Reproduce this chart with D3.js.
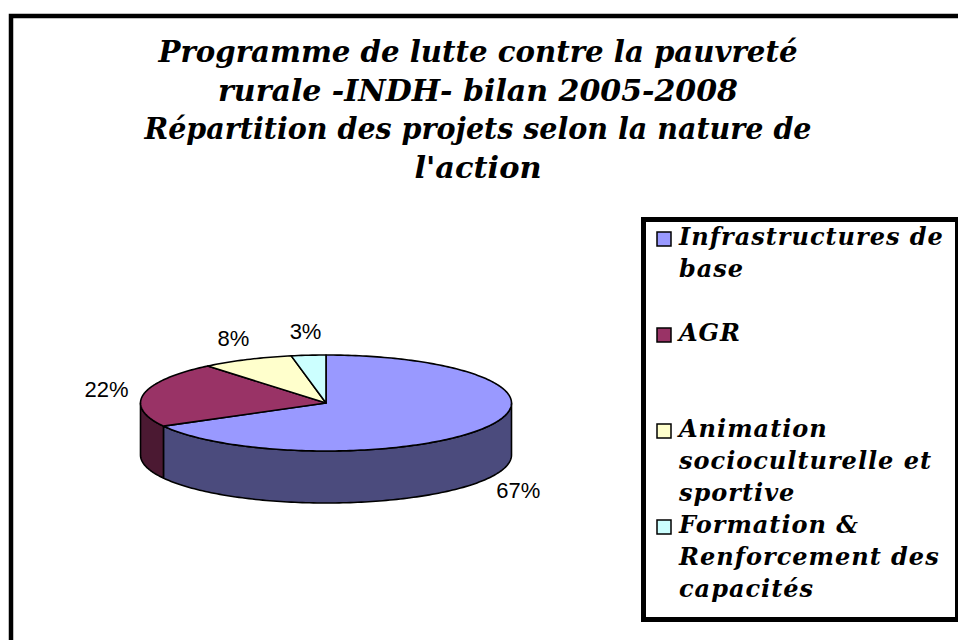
<!DOCTYPE html>
<html>
<head>
<meta charset="utf-8">
<script src="https://cdn.jsdelivr.net/npm/d3@7"></script>
<style>
  body { margin: 0; background: #fff; }
  svg { display: block; }
</style>
</head>
<body>
<div id="chart"></div>
<script>
// Data

var categories = ["Infrastructures de base", "AGR", "Animation socioculturelle et sportive", "Formation & Renforcement des capacités"];
var values = [67, 22, 8, 3];
var colors = ["#9999FF", "#993366", "#FFFFCC", "#CCFFFF"];
var titleLines = ["Programme de lutte contre la pauvreté", "rurale -INDH- bilan 2005-2008", "Répartition des projets selon la nature de", "l'action"];
var legendLines = [["Infrastructures de", "base"], ["AGR"], ["Animation", "socioculturelle et", "sportive"], ["Formation &", "Renforcement des", "capacités"]];

// Size

var w = 958;
var h = 640;

var svg = d3.select("#chart")
  .append("svg")
    .attr("width", w)
    .attr("height", h);

svg.append("rect")
  .attr("width", w)
  .attr("height", h)
  .attr("fill", "#fff");

// outer frame (runs off the right and bottom of the picture)
svg.append("rect")
  .attr("x", 11)
  .attr("y", 16)
  .attr("width", w)
  .attr("height", h)
  .attr("fill", "none")
  .attr("stroke", "#000")
  .attr("stroke-width", 4.5);

// Title

var titleWidths = [639, 520, 667, 127];
svg.append("g")
  .selectAll("text")
  .data(titleLines)
  .enter()
  .append("text")
    .attr("x", 478)
    .attr("y", (d, i) => 62 + i * 38.7)
    .attr("text-anchor", "middle")
    .attr("textLength", (d, i) => titleWidths[i])
    .attr("lengthAdjust", "spacingAndGlyphs")
    .style("font-family", "'DejaVu Serif', serif")
    .style("font-weight", "bold")
    .style("font-style", "italic")
    .style("font-size", "29px")
    .text(d => d);

// 3D pie

var cx = 326, cy = 403;
var rx = 185.5, ry = 48;
var depth = 52;

var pie = d3.pie().sort(null).value(d => d);
var arcs = pie(values);

// angle measured clockwise from 12 o'clock
var px = (a) => cx + rx * Math.sin(a);
var py = (a, dz) => cy - ry * Math.cos(a) + (dz || 0);

function rimPoints(a0, a1, dz) {
  var n = Math.max(2, Math.ceil((a1 - a0) / 0.02));
  return d3.range(n + 1).map(k => {
    var a = a0 + (a1 - a0) * k / n;
    return [px(a), py(a, dz)];
  });
}

var line = d3.line();

// side walls (only the front half is visible)
var walls = svg.append("g");
arcs.forEach(function(d, i) {
  var a0 = Math.max(d.startAngle, Math.PI / 2);
  var a1 = Math.min(d.endAngle, 3 * Math.PI / 2);
  if (a1 <= a0) return;
  var pts = rimPoints(a0, a1, 0).concat(rimPoints(a0, a1, depth).reverse());
  walls.append("path")
    .attr("d", line(pts) + "Z")
    .attr("fill", d3.color(colors[i]).darker(2))
    .attr("stroke", "#000")
    .attr("stroke-width", 1.6)
    .attr("stroke-linejoin", "round");
});

// top faces
svg.append("g")
  .selectAll("path")
  .data(arcs)
  .enter()
  .append("path")
    .attr("d", d => line([[cx, cy]].concat(rimPoints(d.startAngle, d.endAngle, 0))) + "Z")
    .attr("fill", (d, i) => colors[i])
    .attr("stroke", "#000")
    .attr("stroke-width", 1.6)
    .attr("stroke-linejoin", "round");

// percentage labels
var fmt = d3.format(".0%");
var total = d3.sum(values);
svg.append("g")
  .selectAll("text")
  .data(arcs)
  .enter()
  .append("text")
    .each(function(d) {
      var m = (d.startAngle + d.endAngle) / 2;
      var s = Math.sin(m), c = Math.cos(m);
      var ex = px(m), ey = py(m, c < 0 ? depth : 0);
      var ax = ex + 20 * s, ay = ey - 14 * c;
      var tw = fmt(d.value / total).length * 12;
      d3.select(this)
        .attr("x", ax + s * tw / 2)
        .attr("y", ay - c * 9 + 7);
    })
    .attr("text-anchor", "middle")
    .style("font-family", "'Liberation Sans', Arial, sans-serif")
    .style("font-size", "22px")
    .text(d => fmt(d.value / total));

// Legend

svg.append("rect")
  .attr("x", 643.5)
  .attr("y", 219.5)
  .attr("width", 314)
  .attr("height", 400)
  .attr("fill", "#fff")
  .attr("stroke", "#000")
  .attr("stroke-width", 5);

var items = svg.append("g")
  .selectAll("g")
  .data(categories)
  .enter()
  .append("g")
    .attr("transform", (d, i) => `translate(657, ${232 + i * 96})`);

items.append("rect")
  .attr("width", 14)
  .attr("height", 14)
  .attr("fill", (d, i) => colors[i])
  .attr("stroke", "#000")
  .attr("stroke-width", 1.5);

items.each(function(d, i) {
  d3.select(this).selectAll("text")
    .data(legendLines[i])
    .enter()
    .append("text")
      .attr("x", 22)
      .attr("y", (t, j) => 13 + j * 32)
      .style("font-family", "'DejaVu Serif', serif")
      .style("font-weight", "bold")
      .style("font-style", "italic")
      .style("font-size", "24px")
      .style("letter-spacing", "1px")
      .text(t => t);
});
</script>
</body>
</html>
